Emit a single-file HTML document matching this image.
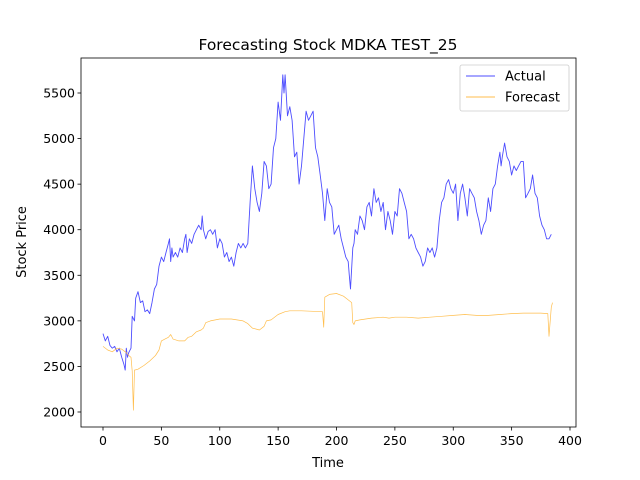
<!DOCTYPE html>
<html><head><meta charset="utf-8"><style>body{margin:0;background:#fff}svg{display:block;font-family:"DejaVu Sans","Liberation Sans",sans-serif}</style></head>
<body>
<svg id="chart" width="640" height="480"></svg>
<script>
const actualIdx=[0,2,4,6,8,10,12,14,16,18,19,20,21,22,24,25,27,28,30,32,34,36,38,40,42,44,46,48,50,52,54,56,57,58,59,60,62,64,66,68,70,71,72,74,76,78,80,82,84,85,86,88,90,92,94,96,98,100,102,104,106,108,110,112,114,116,118,120,122,124,126,128,130,132,134,136,138,140,142,144,146,148,150,152,154,155,156,158,160,162,164,166,168,170,172,174,176,178,180,182,184,186,188,190,192,194,196,198,200,202,204,206,208,210,211,212,214,215,216,218,220,222,224,226,228,230,232,234,236,238,240,242,244,246,248,250,252,254,256,258,260,262,264,266,268,270,272,274,276,278,280,282,284,286,288,290,292,294,296,298,300,302,304,306,308,310,312,314,316,318,320,322,324,326,328,330,332,334,336,338,340,341,342,344,346,348,350,352,354,356,358,360,362,364,366,368,370,372,374,376,378,380,382,384];
const actualVal=[2860,2780,2830,2730,2700,2720,2660,2700,2600,2520,2460,2700,2600,2650,2700,3050,3000,3250,3320,3200,3220,3100,3120,3080,3200,3350,3400,3600,3700,3650,3750,3850,3900,3650,3800,3700,3750,3700,3800,3750,3900,3950,3750,3900,3850,3950,4000,4050,4000,4150,4000,3900,3980,4000,3950,4000,3800,3900,3850,3700,3750,3650,3700,3600,3750,3850,3800,3850,3800,3850,4300,4700,4450,4300,4200,4400,4750,4700,4450,4500,4900,5000,5400,5200,5700,5500,5700,5250,5350,5200,4800,4850,4500,4700,5000,5300,5200,5250,5300,4900,4800,4600,4400,4100,4450,4300,4250,3950,4000,4050,3900,3800,3700,3650,3500,3350,3800,3850,4000,3950,4150,4100,4000,4250,4300,4150,4450,4300,4350,4200,4300,4000,4200,4100,3950,4200,4150,4450,4400,4300,4200,3900,3950,3900,3800,3750,3700,3600,3650,3800,3750,3800,3700,3800,4100,4300,4350,4500,4550,4450,4400,4500,4100,4400,4500,4350,4150,4450,4400,4350,4200,4100,3950,4050,4100,4350,4200,4450,4500,4700,4850,4700,4800,4950,4800,4750,4600,4700,4650,4700,4750,4750,4350,4400,4450,4600,4400,4350,4150,4050,4000,3900,3900,3950];
const fcIdx=[0,4,8,12,16,20,22,24,25,26,27,30,35,40,45,48,50,53,56,58,60,65,70,73,76,80,84,86,88,92,100,110,120,124,128,134,138,140,144,150,156,160,170,180,188,189,190,194,200,206,210,213,214,215,216,220,230,240,245,250,260,270,280,290,300,310,320,330,340,350,360,375,381,382,384,385];
const fcVal=[2720,2680,2660,2700,2690,2650,2620,2600,2450,2020,2460,2470,2510,2560,2620,2680,2780,2800,2820,2850,2800,2780,2780,2820,2830,2880,2900,2920,2980,3000,3020,3020,3000,2970,2920,2900,2940,3000,3010,3070,3100,3110,3110,3105,3100,2930,3260,3290,3300,3270,3230,3200,2980,2960,3000,3010,3030,3040,3030,3040,3040,3030,3040,3050,3060,3070,3060,3060,3070,3080,3085,3085,3080,2830,3150,3200];
const xTicks=[0,50,100,150,200,250,300,350,400];
const yTicks=[2000,2500,3000,3500,4000,4500,5000,5500];
const L=81,R=576,T=58,B=427;
const sx=v=>103+v*1.1675;
const sy=v=>93+(5500-v)*45.57/500;
const svg=document.getElementById('chart');
const NS='http://www.w3.org/2000/svg';
function mk(t,a,txt){const e=document.createElementNS(NS,t);for(const k in a)e.setAttribute(k,a[k]);if(txt!==undefined)e.textContent=txt;svg.appendChild(e);return e;}
function line(idx,val,color,w,name){const d=idx.map((x,i)=>(i?'L':'M')+sx(x).toFixed(1)+','+sy(val[i]).toFixed(1)).join('');const p=mk('path',{d:d,fill:'none',stroke:color,'stroke-width':w,'stroke-linejoin':'round'});

}
line(actualIdx,actualVal,'#4d4dff',0.9,'actual-line');
line(fcIdx,fcVal,'#ffbe4d',0.7,'forecast-line');
const fr=mk('rect',{x:L,y:T,width:R-L,height:B-T,fill:'none',stroke:'#000','stroke-width':0.8});


xTicks.forEach(v=>{const x=sx(v);mk('line',{x1:x,x2:x,y1:B,y2:B+3.5,stroke:'#000','stroke-width':0.8});const t=mk('text',{x:x,y:B+18,'text-anchor':'middle','font-size':12.5},String(v));

});
yTicks.forEach(v=>{const y=sy(v);mk('line',{x1:L-3.5,x2:L,y1:y,y2:y,stroke:'#000','stroke-width':0.8});const t=mk('text',{x:L-6,y:y+4.5,'text-anchor':'end','font-size':12.5},String(v));

});
</script>
<script>
(function(){const svg=document.getElementById('chart');
svg.insertAdjacentHTML('beforeend',`
<text x="328" y="50" text-anchor="middle" font-size="15.5">Forecasting Stock MDKA TEST_25</text>
<text x="328" y="467" text-anchor="middle" font-size="13">Time</text>
<text transform="translate(26,242) rotate(-90)" text-anchor="middle" font-size="13">Stock Price</text>
<g>
<rect x="460" y="65" width="109" height="46" rx="2" fill="#fff" fill-opacity="0.8" stroke="#ccc" stroke-width="0.8"/>
<line x1="466" x2="495" y1="76" y2="76" stroke="#4d4dff" stroke-width="0.9"/>
<text x="505" y="80.5" font-size="13">Actual</text>
<line x1="466" x2="495" y1="97" y2="97" stroke="#ffbe4d" stroke-width="0.9"/>
<text x="505" y="101.5" font-size="13">Forecast</text>
</g>`);})();
</script>
</body></html>
